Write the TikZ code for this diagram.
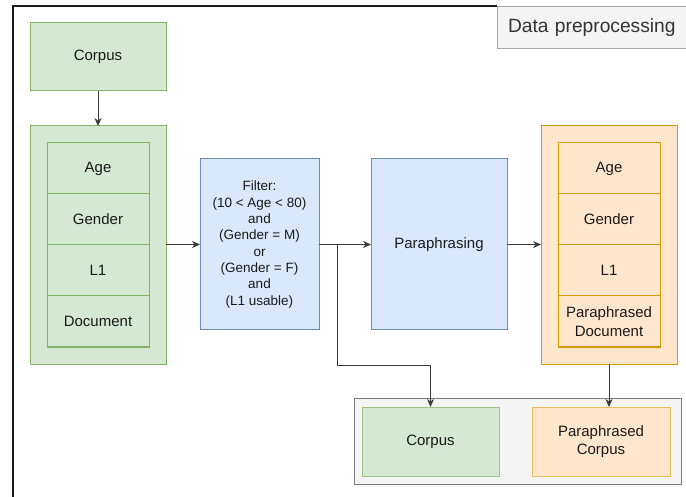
\documentclass[tikz,border=0pt]{standalone}
\usepackage{fontspec}
\setmainfont{Liberation Sans}
\usetikzlibrary{arrows.meta}

\definecolor{gfill}{HTML}{D5E8D4}
\definecolor{gline}{HTML}{82B366}
\definecolor{bfill}{HTML}{DAE8FC}
\definecolor{bline}{HTML}{6C8EBF}
\definecolor{ofill}{HTML}{FFE6CC}
\definecolor{oline}{HTML}{D79B00}
\definecolor{olinesoft}{HTML}{E8BE5A}
\definecolor{glinesoft}{HTML}{9CC486}
\definecolor{cfill}{HTML}{F5F5F5}
\definecolor{cline}{HTML}{7A7A7A}
\definecolor{tline}{HTML}{A6A6A6}
\definecolor{ink}{HTML}{1A1A1A}
\definecolor{titleink}{HTML}{333333}
\definecolor{wire}{HTML}{3A3A3A}

\tikzset{
  base/.style={anchor=north west, inner sep=2pt, outer sep=0pt, line width=1pt,
    align=center, text=ink, font=\fontsize{15}{18.5}\selectfont},
  greenbox/.style={base, fill=gfill, draw=gline},
  bluebox/.style={base, fill=bfill, draw=bline},
  orangebox/.style={base, fill=ofill, draw=oline},
  groupbox/.style={base, fill=cfill, draw=cline},
  wirestyle/.style={draw=wire, line width=1pt},
  arrowstyle/.style={wirestyle, -{Stealth[length=8pt,width=7pt,inset=2.5pt]}},
}

\begin{document}
\begin{tikzpicture}[x=1pt,y=-1pt]
\useasboundingbox (0,0) rectangle (686,497);

% outer frame (left and top edges)
\draw[line width=1.5pt, draw=ink] (497,6) -- (13,6) -- (13,497);

% title tab
\begin{scope}
\clip (0,0) rectangle (686,497);
\node[base, fill=cfill, draw=tline, minimum height=42pt, text width=186pt,
      inner xsep=11pt, align=left, text=titleink,
      font=\fontsize{19.2}{23}\selectfont] (title) at (497,7) {Data preprocessing};
\end{scope}

% source corpus
\node[greenbox, minimum width=136pt, minimum height=68pt] (corpusA) at (30,23) {Corpus};

% record of the source corpus
\node[greenbox, minimum width=136pt, minimum height=238pt] (rec) at (30,126) {};
\node[greenbox, minimum width=102pt, minimum height=51pt] (a1) at (47,143) {Age};
\node[greenbox, minimum width=102pt, minimum height=51pt] (a2) at (47,194) {Gender};
\node[greenbox, minimum width=102pt, minimum height=51pt] (a3) at (47,245) {L1};
\node[greenbox, minimum width=102pt, minimum height=51pt] (a4) at (47,296) {Document};

% filter step
\node[bluebox, minimum width=119pt, minimum height=171pt,
      font=\fontsize{13.5}{16.3}\selectfont] (filter) at (200,159)
  {Filter:\\(10 < Age < 80)\\and\\(Gender = M)\\or\\(Gender = F)\\and\\(L1 usable)};

% paraphrasing step
\node[bluebox, minimum width=136pt, minimum height=171pt] (para) at (371,159) {Paraphrasing};

% paraphrased record
\node[orangebox, minimum width=136pt, minimum height=238pt] (prec) at (541,126) {};
\node[orangebox, minimum width=102pt, minimum height=51pt] (b1) at (558,143) {Age};
\node[orangebox, minimum width=102pt, minimum height=51pt] (b2) at (558,194) {Gender};
\node[orangebox, minimum width=102pt, minimum height=51pt] (b3) at (558,245) {L1};
\node[orangebox, minimum width=102pt, minimum height=51pt] (b4) at (558,296) {Paraphrased\\Document};

% output group
\node[groupbox, minimum width=327pt, minimum height=86pt] (out) at (354,398) {};
\node[greenbox, draw=glinesoft, minimum width=137pt, minimum height=69pt] (corpusB) at (362,407) {Corpus};
\node[orangebox, draw=olinesoft, minimum width=138pt, minimum height=69pt] (parcorp) at (532,407) {Paraphrased\\Corpus};

% connectors
\coordinate (split) at (337,244.5);
\coordinate (bend) at (337,365);

\draw[arrowstyle] (corpusA.south) -- (rec.north);
\draw[arrowstyle] (rec.east |- filter.west) -- (filter.west);
\draw[arrowstyle] (filter.east) -- (para.west);
\draw[arrowstyle] (para.east) -- (prec.west |- para.east);
\draw[arrowstyle] (split) -- (bend) -| (corpusB.north);
\draw[arrowstyle] (prec.south) -- (prec.south |- parcorp.north);
\end{tikzpicture}
\end{document}
